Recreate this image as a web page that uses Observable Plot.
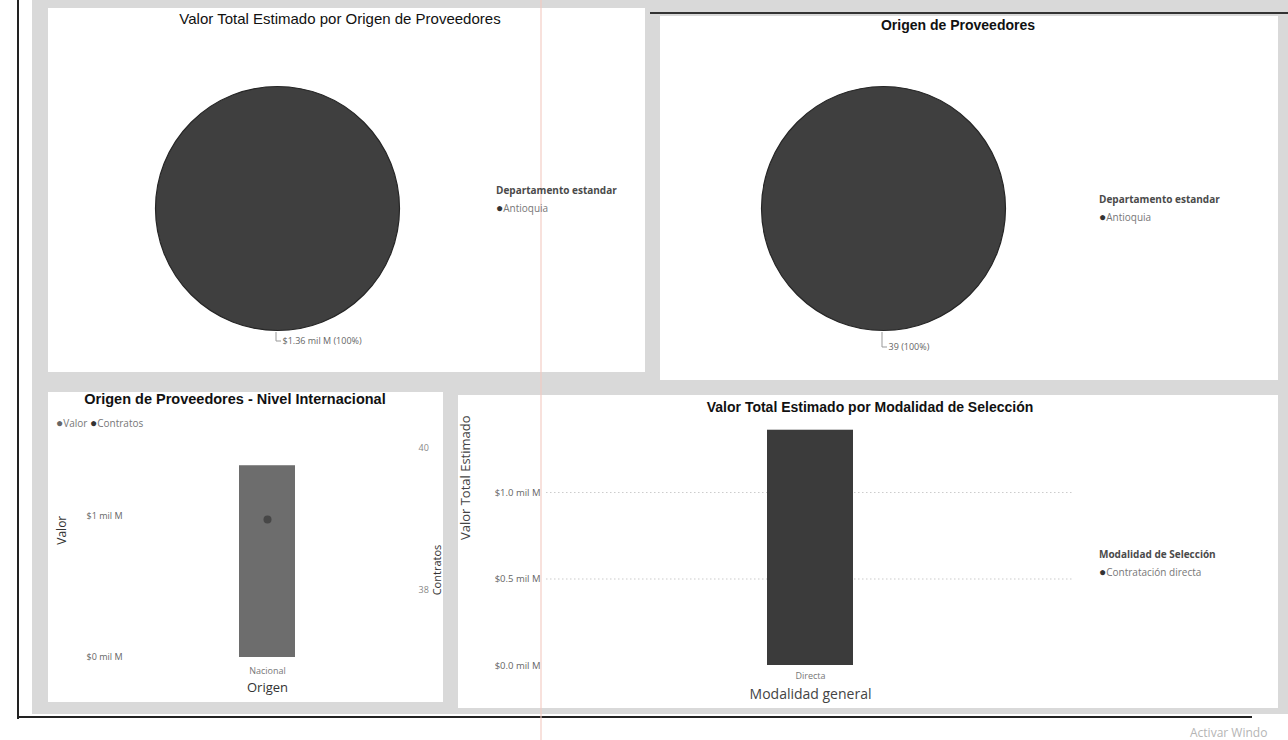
<!DOCTYPE html>
<html><head><meta charset="utf-8">
<script src="https://cdn.jsdelivr.net/npm/d3@7"></script>
<script src="https://cdn.jsdelivr.net/npm/@observablehq/plot@0.6"></script>
<style>
body{margin:0;width:1288px;height:740px;background:#fff;position:relative;overflow:hidden;font-family:"Open Sans","Liberation Sans",sans-serif;}
.gray{position:absolute;left:32px;top:0;width:1256px;height:714px;background:#d9d9d9;}
.panel{position:absolute;background:#fff;overflow:visible;}
.panel svg{position:absolute;left:0;top:0;overflow:visible;}
.title{position:absolute;font-family:"Liberation Sans",Arial,sans-serif;color:#111;white-space:nowrap;transform:translate(-50%,-50%);}
.legend{position:absolute;font-size:10px;color:#777;white-space:nowrap;line-height:18px;}
.legend .lt{color:#4a4a4a;font-weight:700;}
.legend .dot{color:#333;font-size:12px;}
.line{position:absolute;background:#222;}
</style></head><body>
<div class="gray"></div>
<div class="line" style="left:17px;top:0;width:2px;height:719px"></div>
<div class="line" style="left:17px;top:716px;width:1235px;height:2px"></div>
<div class="line" style="left:650px;top:12px;width:638px;height:2px;background:#333"></div>
<div id="p1" class="panel" style="left:48px;top:8px;width:597px;height:364px"></div>
<div id="p2" class="panel" style="left:660px;top:16px;width:618px;height:364px"></div>
<div id="p3" class="panel" style="left:48px;top:392px;width:395px;height:310px"></div>
<div id="p4" class="panel" style="left:458px;top:395px;width:820px;height:313px"></div>
<div style="position:absolute;left:540px;top:0;width:2px;height:740px;background:#f2c9c0;opacity:0.55"></div>
<div style="position:absolute;left:1190px;top:724px;font-size:12px;color:#b5b5b5;font-family:'Open Sans',sans-serif">Activar Windo</div>
<script>
// ---- data ----
const departamentos = ["Antioquia"];
const valorPorDepartamento = [1.36];      // mil M
const contratosPorDepartamento = [39];
const origenes = ["Nacional"];
const valorPorOrigen = [1.36];            // mil M
const contratosPorOrigen = [39];
const modalidades = ["Directa"];
const modalidadSeleccion = ["Contratación directa"];
const valorPorModalidad = [1.36];         // mil M
const valorTicksOrigen = [0, 1];
const contratosTicks = [38, 40];
const valorTicksModalidad = [0, 0.5, 1.0];

// ---- axis settings ----
const valorAxisOrigen = [0, 1.6];
const contratosAxis = [37.06, 40.23];
const valorAxisModalidad = [0, 1.45];

function addText(parent, cls, html, style) {
  const d = document.createElement("div");
  d.className = cls; d.innerHTML = html; d.style.cssText = style;
  parent.appendChild(d); return d;
}

function pie(el, {width, height, mL, mR, mT, mB, values, labels, fmt, dx, dy}) {
  const total = d3.sum(values);
  const rows = labels.map((k, i) => ({k, v: values[i], p: values[i] / total}));
  const svg = Plot.plot({
    width, height, marginLeft: mL, marginRight: mR, marginTop: mT, marginBottom: mB,
    style: {background: "transparent", overflow: "visible"},
    x: {axis: null}, y: {axis: null},
    r: {type: "linear", domain: [0, total], range: [0, 122]},
    color: {domain: labels, range: ["#3f3f3f"]},
    marks: [
      Plot.dot(rows, {frameAnchor: "middle", r: "v", fill: "k", stroke: "#262626", strokeWidth: 1.2}),
      Plot.text(rows, {frameAnchor: "middle", dx, dy, text: fmt, textAnchor: "start",
        fontSize: 9, fill: "#666", fontFamily: "Open Sans"})
    ]
  });
  // leader line from slice edge to label
  const R = svg.scale("r").apply(total);
  const cx = mL + (width - mL - mR) / 2, cy = mT + (height - mT - mB) / 2;
  d3.select(svg).append("path")
    .attr("d", `M${cx + dx - 6},${cy + R + 2}V${cy + dy}H${cx + dx - 1}`)
    .attr("fill", "none").attr("stroke", "#999").attr("stroke-width", 1);
  el.appendChild(svg);
}

// Panel 1
const p1 = document.getElementById("p1");
pie(p1, {width: 597, height: 364, mL: 0, mR: 139, mT: 36, mB: 0,
  values: valorPorDepartamento, labels: departamentos,
  fmt: d => `$${d.v.toFixed(2)} mil M (${Math.round(d.p * 100)}%)`, dx: 5, dy: 133});
addText(p1, "title", "Valor Total Estimado por Origen de Proveedores",
  "left:292px;top:10px;font-size:15px;");
addText(document.body, "legend",
  `<div class="lt">Departamento estandar</div>` + departamentos.map(d => `<div><span class="dot">●</span>${d}</div>`).join(""),
  "left:496px;top:181px;");

// Panel 2
const p2 = document.getElementById("p2");
pie(p2, {width: 618, height: 364, mL: 0, mR: 172, mT: 20, mB: 0,
  values: contratosPorDepartamento, labels: departamentos,
  fmt: d => `${d.v} (${Math.round(d.p * 100)}%)`, dx: 5, dy: 139});
addText(p2, "title", "Origen de Proveedores",
  "left:298px;top:9px;font-size:14px;font-weight:700;");
addText(document.body, "legend",
  `<div class="lt">Departamento estandar</div>` + departamentos.map(d => `<div><span class="dot">●</span>${d}</div>`).join(""),
  "left:1099px;top:190px;");

// Panel 3 (dual axis)
const p3 = document.getElementById("p3");
const yC = d3.scaleLinear().domain(contratosAxis).range(valorAxisOrigen);
const rows3 = origenes.map((o, i) => ({o, v: valorPorOrigen[i], c: contratosPorOrigen[i]}));
const s3 = Plot.plot({
  width: 395, height: 310, marginLeft: 80, marginRight: 37, marginTop: 39.4, marginBottom: 45,
  style: {background: "transparent", overflow: "visible", fontFamily: "Open Sans"},
  x: {domain: origenes, padding: 0.665, axis: null},
  y: {domain: valorAxisOrigen, axis: null},
  marks: [
    Plot.barY(rows3, {x: "o", y: "v", fill: "#6d6d6d"}),
    Plot.axisY(valorTicksOrigen, {anchor: "left", tickSize: 0, tickPadding: 6, label: null,
      tickFormat: d => `$${d} mil M`, fontSize: 9, fill: "#666"}),
    Plot.axisY(contratosTicks.map(yC), {anchor: "right", tickSize: 0, tickPadding: 12, label: null,
      tickFormat: v => Math.round(yC.invert(v)), fontSize: 9, fill: "#888"}),
    Plot.axisX({tickSize: 0, tickPadding: 10, label: null, fontSize: 9, fill: "#777"}),
    Plot.dot(rows3, {x: "o", y: d => yC(d.c), r: 4, fill: "#474747"}),
    Plot.text(["Valor"], {frameAnchor: "left", dx: -66, rotate: -90, fontSize: 12, fill: "#333"}),
    Plot.text(["Contratos"], {frameAnchor: "right", dx: 31, rotate: -90, fontSize: 11, fill: "#333"}),
    Plot.text(["Origen"], {frameAnchor: "bottom", dy: 34, fontSize: 13, fill: "#333"})
  ]
});
p3.appendChild(s3);
addText(p3, "title", "Origen de Proveedores - Nivel Internacional",
  "left:187px;top:7px;font-size:14.5px;font-weight:700;");
addText(p3, "legend",
  `<span class="dot" style="color:#666">●</span>Valor <span class="dot">●</span>Contratos`,
  "left:8px;top:22px;");

// Panel 4
const p4 = document.getElementById("p4");
const rows4 = modalidades.map((m, i) => ({m, v: valorPorModalidad[i]}));
const s4 = Plot.plot({
  width: 820, height: 313, marginLeft: 88, marginRight: 204, marginTop: 19.15, marginBottom: 43,
  style: {background: "transparent", overflow: "visible", fontFamily: "Open Sans"},
  x: {domain: modalidades, padding: 0.72, axis: null},
  y: {domain: valorAxisModalidad, axis: null},
  marks: [
    Plot.gridY(valorTicksModalidad.filter(d => d > 0), {stroke: "#999", strokeOpacity: 0.5, strokeDasharray: "1.5,2.5"}),
    Plot.barY(rows4, {x: "m", y: "v", fill: "#3b3b3b"}),
    Plot.axisY(valorTicksModalidad, {anchor: "left", tickSize: 0, tickPadding: 6, label: null,
      tickFormat: d => `$${d.toFixed(1)} mil M`, fontSize: 9.5, fill: "#666"}),
    Plot.axisX({tickSize: 0, tickPadding: 7, label: null, fontSize: 9, fill: "#777"}),
    Plot.text(["Valor Total Estimado"], {frameAnchor: "left", dx: -81, rotate: -90, fontSize: 13, fill: "#444"}),
    Plot.text(["Modalidad general"], {frameAnchor: "bottom", dy: 33, fontSize: 14, fill: "#444"})
  ]
});
p4.appendChild(s4);
addText(p4, "title", "Valor Total Estimado por Modalidad de Selección",
  "left:412px;top:12px;font-size:14px;font-weight:700;");
addText(document.body, "legend",
  `<div class="lt">Modalidad de Selección</div>` + modalidadSeleccion.map(d => `<div><span class="dot">●</span>${d}</div>`).join(""),
  "left:1099px;top:545px;");
</script>
</body></html>
